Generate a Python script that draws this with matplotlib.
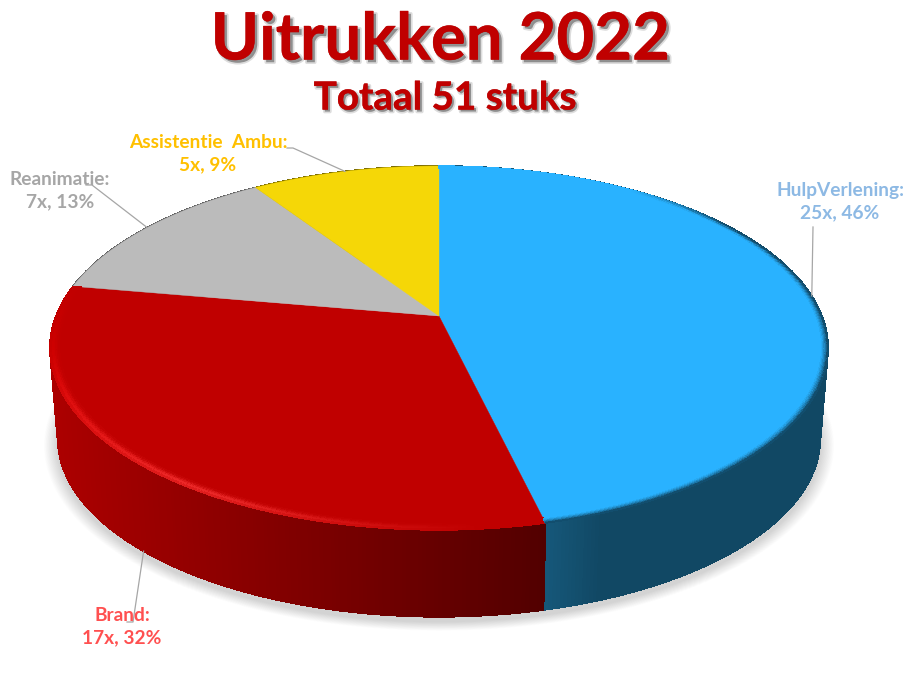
''' Uitrukken 2022: 3D looking pie, drawn from polygons on a pixel sized axes. '''

from math import pi, sin, cos
from matplotlib import pyplot as plt
from matplotlib import patheffects as pe
from matplotlib.collections import PolyCollection

categories = ['HulpVerlening', 'Brand', 'Reanimatie', 'Assistentie  Ambu']
counts = [25, 17, 7, 5]
percents = [46, 32, 13, 9]

faceColors = [(41, 178, 255), (192, 0, 0), (187, 187, 187), (245, 215, 7)]
labelColors = ['#8DB9E4', '#FF5050', '#A6A6A6', '#FFC000']
title = 'Uitrukken 2022'
subtitle = 'Totaal 51 stuks'

# Pie placement, in pixels of the picture.
CX, CY = 439, 316
A, B, K = 383, 176.4, -0.176
DEPTH = 91
SHRINK = 0.02
RED = '#C00000'

def project(deg, r=1.0, depth=0.0):
	''' Disk point (clockwise degrees from the top) to picture pixels. '''
	rad = 2*pi*deg/360.0
	u = r*sin(rad)
	v = -r*cos(rad)
	den = 1 + K*v
	scale = 1 - SHRINK*depth
	return (CX + scale*A*u/den, CY + depth*DEPTH + scale*B*v/den)

def rgb(col):
	return tuple(c/255.0 for c in col)

def mix(c1, c2, t):
	return tuple(a + (b-a)*t for a, b in zip(c1, c2))

def arc(start, end, r=1.0, depth=0.0, step=0.25):
	n = max(int((end-start)/step), 1)
	return [project(start + (end-start)*i/n, r, depth) for i in range(n+1)]

def sideColor(index, x):
	''' Colour of the outer wall. Only brand and hulpverlening show theirs. '''
	if index == 1:
		t = (x-57)/486.0
		return mix((172, 0, 0), (82, 0, 0), min(max(t, 0), 1))
	if index == 0:
		t = min(max((x-543)/55.0, 0), 1)
		return mix((22, 88, 122), (17, 72, 100), t)
	return mix(faceColors[index], (0, 0, 0), 0.5)

def rimWeight(index, deg):
	''' How strong the bevel shows along the edge. '''
	if index == 1:
		if deg < 215:
			return max((deg-175)/40.0, 0)
		return max(min((280-deg)/35.0, 1), 0)
	if index == 0:
		if deg < 55:
			return max((deg-35)/20.0, 0)
		return 1
	return 0

def rimColor(index, deg):
	if index == 1:
		# Brighter and thinner towards the front of the pie.
		t = min(max((260-deg)/50.0, 0), 1)
		return mix((216, 0, 0), (240, 45, 45), t)
	return (18, 78, 110)

fig = plt.figure(figsize=(9.18, 7), dpi=100)
ax = plt.axes([0, 0, 1, 1])
plt.axis('off')
ax.set_xlim(0, 918)
ax.set_ylim(700, 0)

total = float(sum(counts))
edges = [0.0]
for val in counts:
	edges.append(edges[-1] + 360.0*val/total)

# Soft shadow under the pie.
layers = 22
for i in range(layers):
	r = 1.035 - 0.035*i/layers
	pts = [(x, y+5) for x, y in arc(0, 360, r, 1.0, 2)]
	ax.add_patch(plt.Polygon(pts, facecolor='black', edgecolor='none', alpha=0.009, zorder=1))

# Outer wall, as thin strips so the shading can run along it.
for i, val in enumerate(counts):
	polys = []
	cols = []
	start, end = edges[i], edges[i+1]
	n = int((end-start)/0.5)
	for s in range(n):
		a1 = start + (end-start)*s/n
		a2 = start + (end-start)*(s+1)/n
		p1, p2 = project(a1), project(a2)
		p3, p4 = project(a2, 1.0, 1.0), project(a1, 1.0, 1.0)
		polys.append([p1, p2, p3, p4])
		cols.append(rgb(sideColor(i, (p3[0]+p4[0])/2.0)))
	ax.add_collection(PolyCollection(polys, facecolors=cols, edgecolors=cols, linewidths=0.5,
		antialiaseds=False, zorder=2))

# Top faces.
for i, val in enumerate(counts):
	pts = [(CX, CY)] + arc(edges[i], edges[i+1])
	ax.add_patch(plt.Polygon(pts, facecolor=rgb(faceColors[i]), edgecolor=rgb(faceColors[i]), linewidth=0.3, zorder=3))

# Bevel along the edge.
redRings = [0.976, 0.981, 0.985, 0.989, 0.992, 0.996, 1.0]
blueRings = [0.984, 0.987, 0.990, 0.993, 0.996, 0.998, 1.0]
redProfile = [0.1, 0.3, 0.6, 0.9, 1.0, 0.7]
blueProfile = [0.08, 0.22, 0.4, 0.6, 0.8, 1.0]
for i, rings, profile in [(1, redRings, redProfile), (0, blueRings, blueProfile)]:
	polys = []
	cols = []
	start, end = edges[i], edges[i+1]
	n = int((end-start)/0.5)
	for s in range(n):
		a1 = start + (end-start)*s/n
		a2 = start + (end-start)*(s+1)/n
		w = rimWeight(i, a1)
		for j in range(len(profile)):
			polys.append([project(a1, rings[j]), project(a2, rings[j]), project(a2, rings[j+1]), project(a1, rings[j+1])])
			cols.append(rgb(mix(faceColors[i], rimColor(i, a1), w*profile[j])))
	ax.add_collection(PolyCollection(polys, facecolors=cols, edgecolors=cols, linewidths=0.2,
		antialiaseds=False, zorder=4))

# Leader lines run from the middle of each slice to its label.
mids = [(edges[i]+edges[i+1])/2.0 for i in range(len(counts))]
leaderStarts = [
	[(813, 227)],
	[(127, 622), (133, 622)],
	[(86, 185), (92, 185)],
	[(287, 148), (293, 148)],
]
for i, mid in enumerate(mids):
	end = project(mid, 1.0, 1.0 if i == 1 else 0.0)
	line = leaderStarts[i] + [end]
	ax.plot([p[0] for p in line], [p[1] for p in line], color='#A6A6A6', linewidth=0.9, zorder=5)

# Labels.
labelPos = [(840, 202), (122, 627), (60, 191), (208, 154)]
for i, cat in enumerate(categories):
	txt = '%s:\n%dx, %d%%' % (cat, counts[i], percents[i])
	ax.text(labelPos[i][0], labelPos[i][1], txt, color=labelColors[i], family='Lato', weight='bold',
		fontsize=13.8, ha='center', va='center', linespacing=1.36, zorder=6)

# Title and subtitle, with a grey drop shadow.
def titleEffects(off):
	return [
		pe.SimpleLineShadow(offset=(off, -off), shadow_color='#909090', alpha=0.3, linewidth=2.5),
		pe.SimplePatchShadow(offset=(off, -off), shadow_rgbFace='#808080', alpha=0.85),
		pe.Stroke(linewidth=0.3, foreground='#B00000'),
		pe.Normal(),
	]

ax.text(440, 41, title, color=RED, family='Lato', weight='bold', fontsize=47, ha='center', va='center',
	path_effects=titleEffects(2), zorder=6)
ax.text(445, 98, subtitle, color=RED, family='Lato', weight='bold', fontsize=27.8, ha='center', va='center',
	path_effects=titleEffects(1.5), zorder=6)

fig.savefig('out.png', dpi=100)
